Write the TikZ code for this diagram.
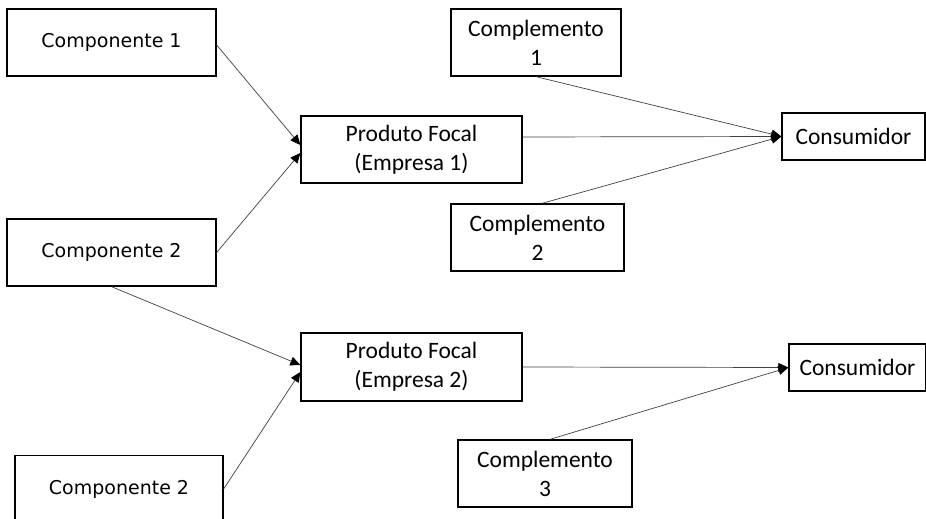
\documentclass[tikz,border=0pt]{standalone}
\usepackage{fontspec}
\setmainfont{Carlito}
\newfontfamily\compfont{DejaVu Sans}
\usetikzlibrary{arrows.meta}

\begin{document}
\begin{tikzpicture}[x=1pt,y=-1pt,
  box/.style={draw=black,line width=1.3pt,fill=white,inner sep=0pt,align=center,
    font=\fontsize{23.5}{29}\selectfont},
  compbox/.style={box,minimum width=209pt,minimum height=67pt,
    font=\compfont\fontsize{19}{23}\selectfont},
  link/.style={draw=black!75,line width=0.7pt},
  arrowlink/.style={link,-{Triangle[length=10pt,width=9pt,black]}}
]
\useasboundingbox (0,0) rectangle (926,519);

% suppliers of components
\node[compbox] (comp1)  at (111.5,42.5) {Componente 1};
\node[compbox] (comp2)  at (111.5,252.5) {Componente 2};
\node[compbox,minimum width=208pt] (comp2b) at (119,489) {Componente 2};

% focal products
\node[box,minimum width=221pt,minimum height=67pt] (focal1) at (411.5,149.5) {Produto Focal\\(Empresa 1)};
\node[box,minimum width=221pt,minimum height=68pt] (focal2) at (411.5,367) {Produto Focal\\(Empresa 2)};

% complements
\node[box,minimum width=170pt,minimum height=67pt] (compl1) at (536,42.5) {Complemento\\1};
\node[box,minimum width=173pt,minimum height=67pt] (compl2) at (537.5,237.5) {Complemento\\2};
\node[box,minimum width=174pt,minimum height=67pt] (compl3) at (545,473.5) {Complemento\\3};

% consumers
\node[box,minimum width=143pt,minimum height=47pt] (cons1) at (853.5,136.5) {Consumidor};
\node[box,minimum width=137pt,minimum height=47pt] (cons2) at (857.5,367.5) {Consumidor};

% components feed the focal products
\draw[arrowlink] ([yshift=-2.5pt]comp1.east) -- ([yshift=4.5pt]focal1.west);
\draw[arrowlink] (comp2.east) -- ([yshift=-3.5pt]focal1.west);
\draw[arrowlink] (comp2.south) -- ([yshift=2pt]focal2.west);
\draw[arrowlink] (comp2b.east) -- ([yshift=-5pt]focal2.west);

% focal product and complements reach the consumer
\draw[arrowlink] ([yshift=12.5pt]focal1.east) -- (cons1.west);
\draw[arrowlink] (compl1.south) -- (cons1.west);
\draw[arrowlink] ([xshift=4.5pt]compl2.north) -- (cons1.west);
\draw[arrowlink] (focal2.east) -- (cons2.west);
\draw[arrowlink] ([xshift=5pt]compl3.north) -- (cons2.west);
\end{tikzpicture}
\end{document}
